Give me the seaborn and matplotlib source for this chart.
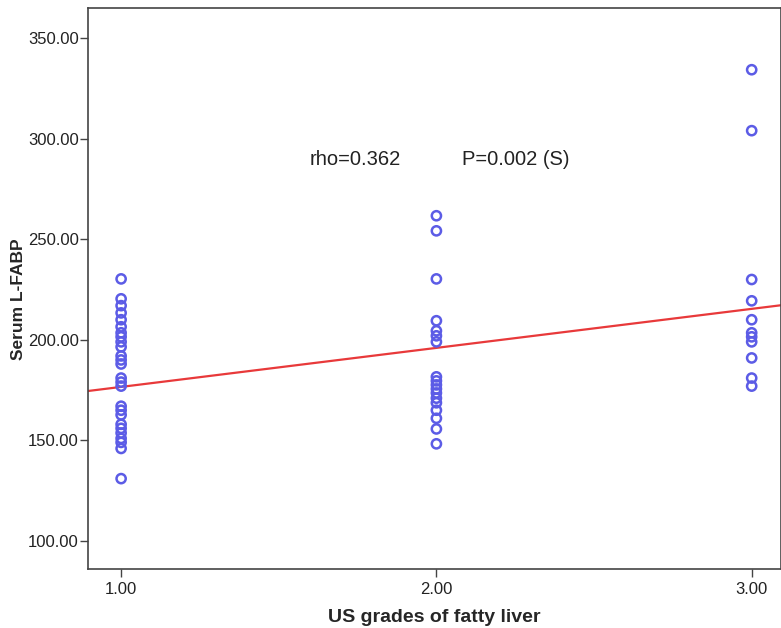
import numpy as np
import pandas as pd
import seaborn as sns
import matplotlib.pyplot as plt

# serum L-FABP readings per ultrasound grade
grade_1 = [230.3, 220.4, 217, 213.4, 210, 206.5, 203.5, 201.5, 199, 196.5,
           192, 190, 188, 181, 179, 177, 167, 165, 162.7, 158,
           156, 153.7, 151, 149, 146, 131]
grade_2 = [261.7, 254.2, 230.3, 209.5, 204.5, 202, 199, 181.6, 179.6, 177.6,
           175.6, 173.6, 171, 168.7, 165, 161, 155.7, 148.3]
grade_3 = [334.3, 304, 230, 219.4, 210, 203.5, 201.5, 199, 191, 181, 177]

# fitted line shown on the chart
fit_intercept = 157.2
fit_slope = 19.4

y_ticks = [100, 150, 200, 250, 300, 350]
x_ticks = [1, 2, 3]

df = pd.DataFrame({
    'grade': [1.0] * len(grade_1) + [2.0] * len(grade_2) + [3.0] * len(grade_3),
    'lfabp': grade_1 + grade_2 + grade_3,
})

sns.set_style('white')
plt.rcParams['font.family'] = ['Liberation Sans', 'DejaVu Sans']

fig = plt.figure(figsize=(7.81, 6.28), dpi=100)
ax = fig.add_axes([0.1127, 0.0947, 0.8873, 0.8926])

x_lim = (0.895, 3.093)
y_lim = (86.3, 365)

fit_x = np.array(x_lim)
fit_df = pd.DataFrame({'x': fit_x, 'y': fit_intercept + fit_slope * fit_x})
sns.lineplot(data=fit_df, x='x', y='y', ax=ax, color='#e8393a', linewidth=1.6, zorder=2)

sns.scatterplot(data=df, x='grade', y='lfabp', ax=ax, marker='o', s=44,
                facecolors='none', edgecolor='#5c5ce6', linewidth=1.8, zorder=3)

ax.set_xlim(*x_lim)
ax.set_ylim(*y_lim)
ax.set_xticks(x_ticks)
ax.set_xticklabels([f'{t:.2f}' for t in x_ticks])
ax.set_yticks(y_ticks)
ax.set_yticklabels([f'{t:.2f}' for t in y_ticks])
ax.tick_params(axis='both', direction='out', length=5.5, width=1, color='#444444',
               labelsize=12, labelcolor='#222222', bottom=True, left=True, pad=1)
ax.tick_params(axis='x', pad=4)

for s in ax.spines.values():
    s.set_color('#444444')
    s.set_linewidth(1.2)

ax.set_xlabel('US grades of fatty liver', fontsize=14, fontweight='bold', labelpad=9)
ax.set_ylabel('Serum L-FABP', fontsize=12.5, fontweight='bold')
ax.yaxis.set_label_coords(-0.09, 0.48)

ax.text(1.598, 289.5, 'rho=0.362', fontsize=14.5, va='center', ha='left', color='#222222')
ax.text(2.08, 289.5, 'P=0.002 (S)', fontsize=14.5, va='center', ha='left', color='#222222')

plt.savefig('out.png', dpi=100)
